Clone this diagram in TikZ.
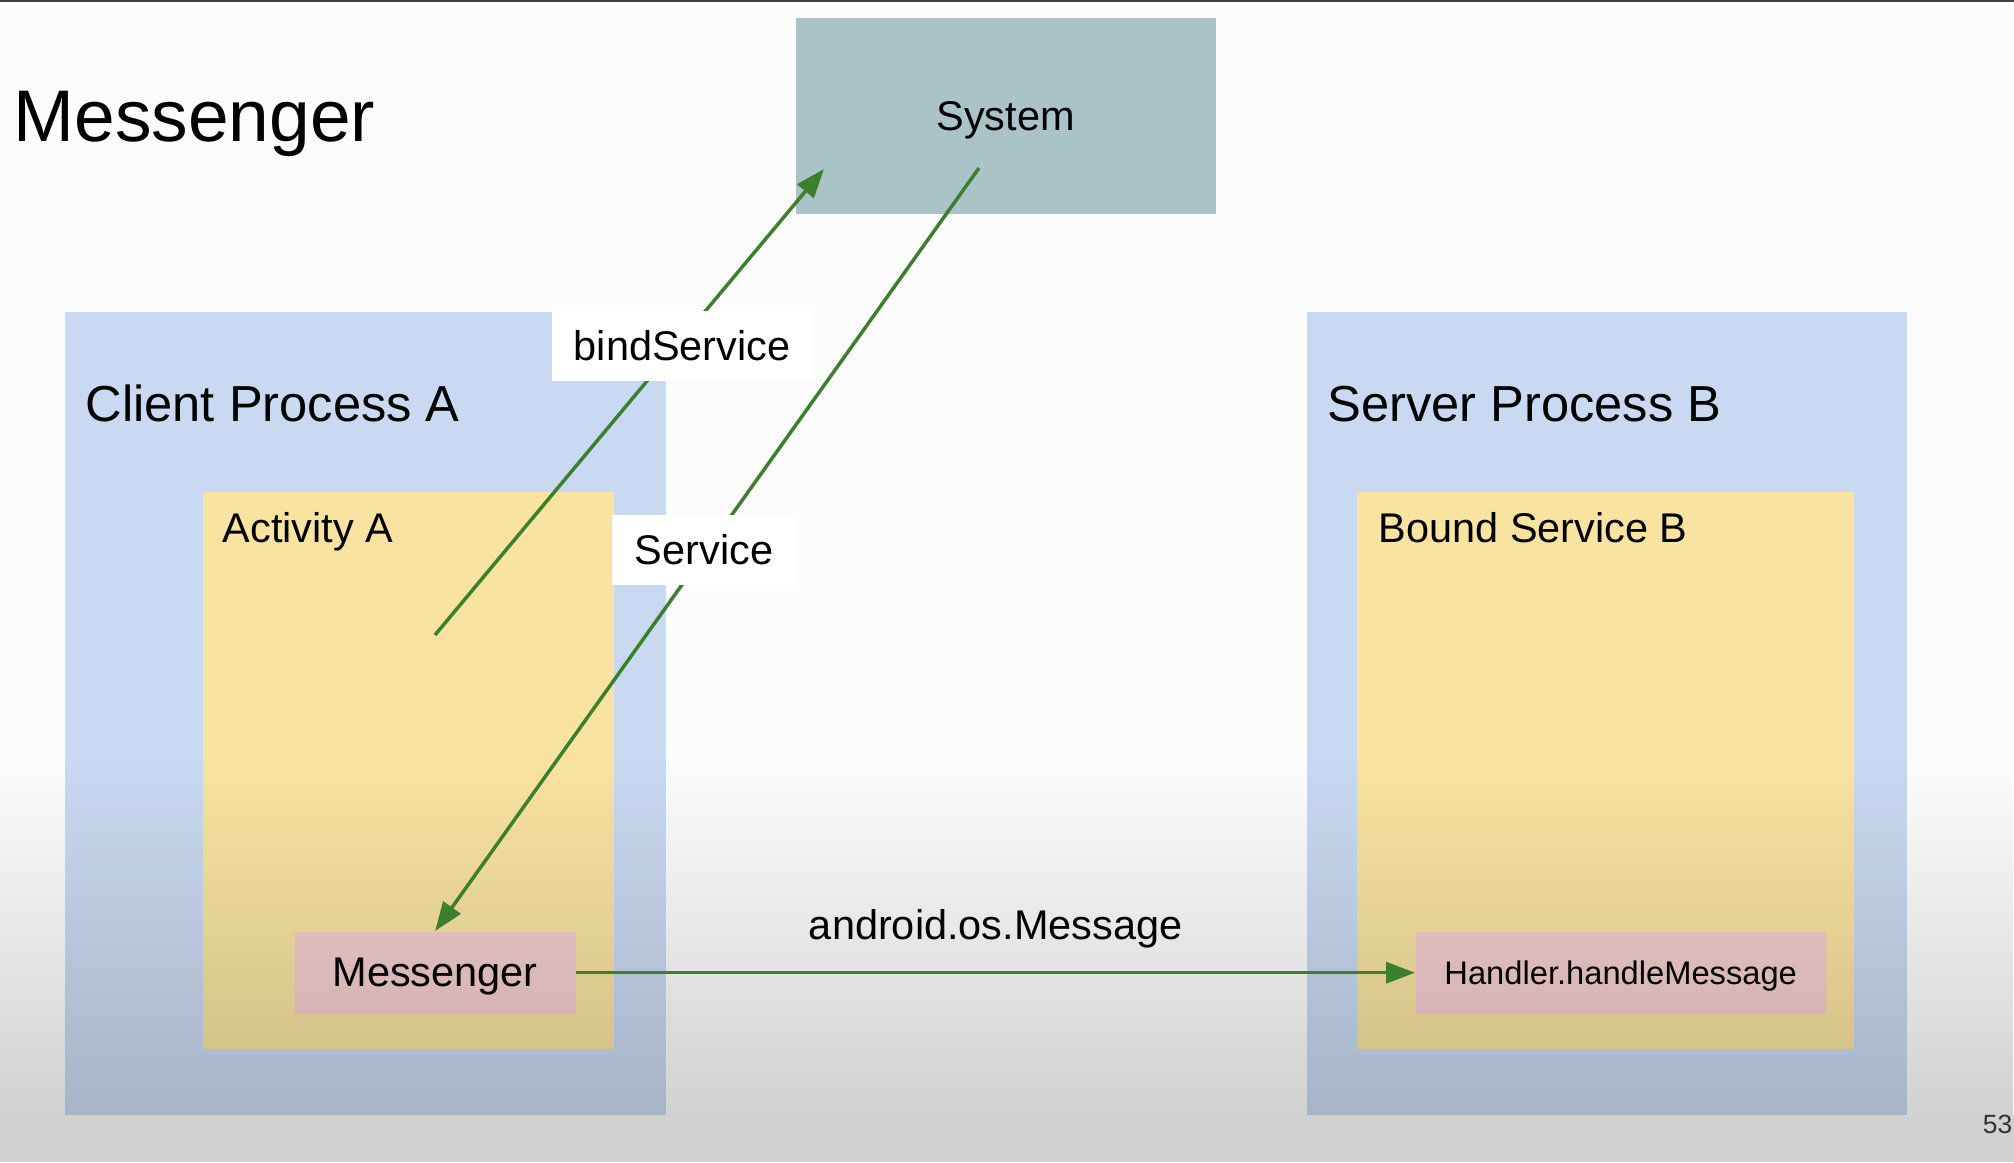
\documentclass[tikz,border=0pt]{standalone}
\usepackage{fontspec}
\setmainfont{Liberation Sans}
\usetikzlibrary{arrows.meta,fadings}
\definecolor{sysgray}{RGB}{169,195,199}
\definecolor{procblue}{RGB}{201,217,241}
\definecolor{actyellow}{RGB}{248,227,161}
\definecolor{msgpink}{RGB}{244,206,206}
\definecolor{arrgreen}{RGB}{60,127,46}
\tikzfading[name=dimdown, top color=transparent!100, bottom color=transparent!0]
\begin{document}
\begin{tikzpicture}
  \tikzset{
    box/.style args={#1/#2/#3}{fill=#1,minimum width=#2cm,minimum height=#3cm,
      anchor=north west,inner sep=0pt,text depth=0pt,font=\fontsize{11.8}{14}\selectfont},
    head/.style={anchor=base west,inner sep=0pt,font=\fontsize{14.4}{17}\selectfont},
    sub/.style={anchor=base west,inner sep=0pt,font=\fontsize{11.8}{14}\selectfont},
    flow/.style={draw=arrgreen,line width=0.35mm,-{Triangle[length=2.9mm,width=2.1mm]}},
    tag/.style={fill=white,inner xsep=2.2mm,inner ysep=0pt,minimum height=7mm,
      font=\fontsize{11.8}{14}\selectfont}
  }

    %PAGE
    \fill[white!99!black] (0,0) rectangle (20.14,-11.62);
    \useasboundingbox (0,0) rectangle (20.14,-11.62);
    \fill[black!75] (0,0) rectangle (20.14,-0.015);
    \node[anchor=base west,inner sep=0pt,font=\fontsize{20.8}{25}\selectfont] (title) at (0.13,-1.41) {Messenger};

    %SYSTEM
    \node[box={sysgray/4.20/1.96}] (sys) at (7.95,-0.17) {System};

    %CLIENT PROCESS A
    \node[box={procblue/6.01/8.03}] (clientA) at (0.64,-3.11) {};
    \node[box={actyellow/4.11/5.57}] (actA) at (2.02,-4.91) {};
    \node[box={msgpink/2.81/0.82}] (msgA) at (2.94,-9.31) {Messenger};
    \node[head] (clientAtxt) at (0.85,-4.21) {Client Process A};
    \node[sub] (actAtxt) at (2.22,-5.42) {Activity A};

    %SERVER PROCESS B
    \node[box={procblue/6.00/8.03}] (serverB) at (13.06,-3.11) {};
    \node[box={actyellow/4.97/5.57}] (boundB) at (13.56,-4.91) {};
    \node[box={msgpink/4.10/0.82},font=\fontsize{9.3}{11}\selectfont] (handlerB) at (14.15,-9.31) {Handler.handleMessage};
    \node[head] (serverBtxt) at (13.27,-4.21) {Server Process B};
    \node[sub] (boundBtxt) at (13.78,-5.42) {Bound Service B};

    %DIM AT THE BOTTOM
    \fill[black,opacity=0.17,path fading=dimdown] (0,-7.6) rectangle (20.14,-11.15);
    \fill[black,opacity=0.17] (0,-11.15) rectangle (20.14,-11.62);

    %ARROWS
    \coordinate (bindFrom) at (4.35,-6.35);
    \coordinate (bindTo) at (8.24,-1.69);
    \coordinate (svcFrom) at (9.79,-1.68);
    \draw[flow] (bindFrom) -- (bindTo) node[tag,pos=0.62,xshift=0.06cm] (bindLbl) {bindService};
    \draw[flow] (svcFrom) -- (msgA.north) node[tag,pos=0.5,inner xsep=2.3mm,xshift=-0.03cm] (svcLbl) {Service};
    \draw[flow] (msgA.east) -- (handlerB.west)
      node[midway,anchor=base,yshift=3.3mm,inner sep=0pt,font=\fontsize{11.8}{14}\selectfont] (msgLbl) {android.os.Message};

    \node[anchor=base east,inner sep=0pt,text=black!80,font=\fontsize{7.5}{9}\selectfont] (pageNo) at (20.13,-11.33) {53};
  \end{tikzpicture}
\end{document}
